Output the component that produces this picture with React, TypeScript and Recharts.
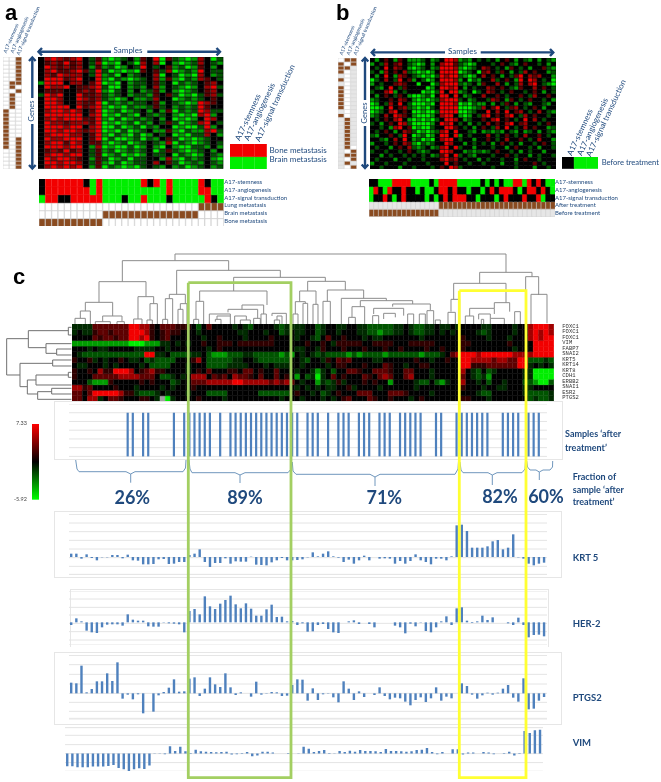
import React from 'react';
import {
  BarChart,
  Bar,
  Cell,
  XAxis,
  YAxis,
  ScatterChart,
  Scatter,
  CartesianGrid,
} from 'recharts';

// expression bars, 93 samples (26 units = one gridline)
const krt5 = [10, 10, -5, 8, -3, -10, -1, -1, 6, 6, -4, 7, -10, -11, -22, -22, -21, -7, -6, -21, -20, -15, -15, 6, 10, 23, -15, -30, -18, -18, -4, -20, -13, -14, -14, 1, -23, -24, -25, -16, -10, -3, -10, -10, -9, -7, -1, 14, 2, 10, 17, 2, -2, -15, -8, -20, -10, 4, -10, 0, -5, -4, -5, -20, -12, -20, -12, 8, -10, -15, -22, -5, -5, -10, 2, 95, 97, 78, 28, 28, 28, 32, 47, 51, 23, 28, 68, -1, -5, -20, -25, -20, -17];
const her2 = [-8, 12, 3, -25, -30, -32, -15, -7, -6, -6, -10, 24, 8, 5, 5, -12, -13, -13, -1, -3, -4, -6, -30, 34, 40, 24, 78, 48, 40, 56, 67, 80, 54, 42, 57, 41, 20, 20, 39, 53, 16, 17, 3, 4, -8, -3, -28, -27, -8, -5, -20, -30, -32, 0, 3, 6, -5, 0, -5, -15, 0, 0, 0, -10, -15, -33, -4, -12, -1, -26, -30, -15, 3, 18, -8, 42, 45, 5, -2, 3, 20, 7, 15, 0, 0, -3, -8, 14, -8, -45, -38, -37, -42];
const ptgs2 = [32, 30, 83, 3, 13, 36, 36, 60, 37, 93, -16, -4, -18, -3, -60, 0, -55, -6, 4, 17, 42, 5, 6, 44, 48, -8, 14, 48, 27, 19, 60, 18, -5, 3, 0, -10, 35, -4, 1, 4, 3, -8, -7, 25, 42, 41, -22, 15, -20, -3, -1, -12, -27, 36, 14, -20, 6, -11, 0, -5, 18, -8, -18, -13, -15, -25, -36, -20, -12, -26, -15, 18, -22, -10, -15, 0, 30, 22, -4, -16, -6, 2, -4, 2, 14, 25, -13, -25, 45, -48, -46, -22, -11];
const vim = [-38, -38, -41, -41, -41, -39, -39, -39, -37, -34, -43, -47, -52, -47, -44, -46, -36, 1, 1, -2, 22, 8, 21, 7, 2, 12, 7, 6, 5, 4, 5, 6, -3, -2, 2, 5, -8, -6, 6, 6, 3, 0, 0, -1, 0, 1, 21, 15, 5, 8, 11, 2, 1, 8, 5, 9, 6, 11, 8, 8, 7, 5, 14, 8, 8, 7, 6, 7, 11, 12, 17, 5, -2, 5, 0, 13, 13, -3, 3, 3, 0, 5, 3, -2, 0, 2, 6, -6, 2, 68, 62, 70, 72];

// sample numbers that are marked 'after treatment'
const afterSamples = [11, 12, 14, 15, 20, 22, 23, 24, 25, 26, 27, 29, 31, 32, 33, 34, 35, 36, 37, 38, 39, 40, 41, 42, 43, 44, 46, 47, 48, 50, 52, 53, 54, 56, 57, 58, 60, 61, 62, 64, 65, 66, 67, 68, 71, 72, 75, 76, 77, 78, 79, 80, 81, 84, 85, 86, 87, 89, 90, 91];

const geneLabels = ['FOXC1', 'FOXC1', 'FOXC1', 'VIM', 'FABP7', 'SNAI2', 'KRT5', 'KRT14', 'KRT8', 'CDH1', 'ERBB2', 'SNAI1', 'ESR2', 'PTGS2'];

// heat map cells as one letter per cell: R o r n k b d g G = red ... black ... green
const palette: Record<string, string> = {
  R: '#f20000', o: '#a00000', r: '#5e0000', n: '#300000', k: '#000000',
  b: '#002a00', d: '#005400', g: '#009c00', G: '#00ee00',
  B: '#8a4b20', w: '#ffffff', e: '#e6e6e6', y: '#a0a0a0',
};

const heatC = [
  'bbbb rrrrrrr RR oo n k rrr nnn kdkrkkkkbkbdkkkkbdbb bbkkdbkkbbkkbbdddddbbkbddbbkbbkb kkkkbbkkkkbkk oRRRo',
  'bkbb nrrnrrr RR Ro n k nrn nkk kbkkkkkkkbbkkkbkkdbk bbkkdbkkbkkkbbddgddbbkbddbbkbkbk kkkbdbkkkkbkk oRoRo',
  'kkkk rnrrnrr RR oR n k nrk kkk kkbkknkkkkbkkkknkkkk bkkbdkrkknkkkbkbbkkkkkkkbkkkkkkk nkkkkbkkkbkkk oRoRR',
  'gggggggggggGGGggg bbkbkb kknkknnnknnnnnnnkkkk kknkknkbnnnnnkknnnnkkknnnnnkkkkk nnkkkkkkknkkk kRRRR',
  'kkkbkbbkkkkkbbbbkkbkkkk kkkbknkkkkkkkkkkkkkk bbkkbnkkknkkknkkknkknkkkknkknkkk nkkkkkkkkkbkk kRRRR',
  'kbddddddddddddRRbbkdddd bbkdgggdddbbdddddgdg kbkbdbddddgdgddddgddddddgdddbkro RRRoRRRRRRooo oRRRR',
  'nkknbkbkknkbbkdbddddkkk nokdddddbbkkbddddddk kbdkkbnkrnrkkkkbbkkkkkknkkbkknkk RRooooroorrRR dddbd',
  'kbbkkkbkbkkkkbkddddkkkb kkkddddbbbbkkkbkbbbk kbkkkkbknnkkknkkkrnkkbkknnkkkkkk RRnnnrrrrrrRR bkbkb',
  'nkknkonnRRRoknronnkkkkb knkrkkknnkrrknkkrkkk bkkbgbkdkkrrnkkrrrnkkrrkkkbkkkkk okbdkdbkkkkkb bGGGG',
  'nkkkrrrrroooorrrkddbkbk oookrnrkorrnkrkkrknk gkdbGbkrknkkkrnkrorkkrokkkbkkkkk rkbdbgkkkkkkb bGGGG',
  'kkkdgggnkkkkknknkkkdbkk rrroooooRRooooororor kbkkgbdbnbkkknknkkgkkkkbddkdgbkk okkbkdkkbkkkd dgGGd',
  'oonrkkkknkkkbkkkkbkbkkk nkkkkkkkkkkkkkkkkkkk bkbkbkbbkknbkkkkbkkkkkkbkkkkkkkk nkkkbkkbbkkkb bkkkk',
  'rrkrRRRRRonnbdddbkbkkkb kkkddddkkkkkkddddddk nkkbkdbknkkkrrrkkkrrrnkkkkbkkkkk kkkbddkkkkkkb ddddb',
  'rrkoobkrrnkkknnkbyGbkkk knkkkkbkkkkkkkkkkbkk kbkkkbkbknrkkkrnkknkkkbknkkkkkkk nnkkkbkkkkkkk dbddb',
];

const heatA = [
  'k oRoroR k dr gGgdkg rkRG r dgGg okGd',
  'k rorRro k do GgGkdG okoG k gGgd okdg',
  'k Rororo k gr gdGgkd Rkdk r gdGg rkgk',
  'k oRrroR r dR dGgGgG rkrd o Ggdg Rkdd',
  'k orRooo k dR gdGkgd kkoG k dGgG okgd',
  'k RRRroR k kR gGdgGg dkog r gGdg orkd',
  'g RRRkoo k rR GgGkgd dkrd k Gdgd krok',
  'k RooRkr r oR dGGkgd gkog k dgGg koRd',
  'k rrrkkr o rR gGdkgk gdrg k gGgd krok',
  'd RoRkkR r ro dgdkgd dgrk r dGgG drod',
  'k RRokkR o ro dgGgkg gdok k Ggdg dkrk',
  'k RRokko r rR Gdgdgd dkrg k dgGg Rork',
  'k RRRRkR r oR gGgGdg gdrd k gdgd Rrkk',
  'k oRRoRo k rR GgdGgd kgkg r Gdgd Rodd',
  'k RRRRRR k oR GgGdgG kdgd k gGgG oRgk',
  'k oRoRRR r rR gGdGgd gdkg k GgGg kRok',
  'k Rooroo o rR GgGgdG dgkd r dGgd oRkd',
  'k RRRoRR k oR GGdGgd Gdgk k GgGG dRgk',
  'k RRoRRo r oR GgGdGg dkgg r gGdg goRd',
  'k oRRRoo k rR gGdgGd Ggkd k GgGd dokg',
  'k RooRRR k rR GdGGgd Gdgk r dGgG gdkk',
  'k oRRrRo k rr gGgdGg dkdg o GdgG gdkd',
  'k RRRoRR k go GgGGdG gkgG k gGGd dgkg',
  'k rorRro k dr gdGgdg dkGd r dgGg dkgk',
  'k oRRoRR k dr GgdGgG gkdd k GdgG gkdg',
  'k RoRRor k gr dGgdGd dkkg o gGdg dkgG',
  'k RRoRRo k dr gGdGgd dkok r dGgd gkdg',
  'k oRoRoR k gr GdgGgG dkdg k gdGg dkgd',
];
const sideA = ['wwB', 'wwB', 'wwB', 'wwB', 'wwB', 'wwB', 'wBB', 'wBw', 'wwB', 'wBw', 'wBw', 'wBw', 'wBw', 'Bww', 'Bww', 'Bww', 'Bww', 'Bww', 'Bww', 'Bww', 'BwB', 'BwB', 'BwB', 'wwB', 'wwB', 'wwB', 'wwB', 'wwB'];
const barA = [
  'k RRRRRR k G R GGGGGG R k R G R GGGG R k G G',
  'k RRRRRR R G R GGGGGG G G G G R GGGG R R G G',
  'G RR kk RRRRR GGG k GG R GGG k GGGG G R k G',
  'wwwwwwwwwwwwwwwwwwwwwwwww BBBB',
  'wwwwwwwwww BBBBBBBBBBBBBBB wwww',
  'BBBBBBBBBB wwwwwwwwwwwwwwwwwww',
];
const swatchA = ['RRR', 'GGG'];

const heatB = [
  'kgkrkgrkg ggdkgd kRRo gdgkd kdkgkrkgkdgkgkdg',
  'gkdokrokd gGgkgk oRRr dgGgk kkdkrkdgkrkkdkgk',
  'kdkRkorkg Ggdkgd RRRo gGgdk orkdkgrkdkgkkrdg',
  'dkgokrkod gGgGgk RRRR GgdkG rokdrkgkdokrkkgd',
  'kgkRkgork dgGgGd RoRR dgGgk okrkgkdrRkorokkg',
  'GdkokdRkr gkdGgk RRRo gkGdg kkodkrkgRkRokdkG',
  'gkdkkrork kGkkGd oRRR dgdkg rkkokgkdokoRkdgG',
  'kdgkRkdrk kkkGgk RRoR kgkdk korkrkdgrkkokrkd',
  'dkkoRgkdk kkGgGd RkRR gdkGd korkdkrkkdkrkgkd',
  'kgkrkdrkg GGgdGk RRkR kgdkk okkrkdkkrkdokkrk',
  'gdkkrkork gGgGgd oRRR dkgdk kdorkgrkdkrkkdkg',
  'GgkdokRkd GGGgGk RRRo GgGdg gkgkdrkgkdgkkdgk',
  'GGgkRkrod gGgGdk RRRR GGGgd okrRkdrokdkrkgkk',
  'GgdkoRkrk GGgGGd RRRR GGgdk kRkokRkrokdkokdg',
  'gdkokRork gGGGgk oRRk gGgkd oRkrkoRkdokrkkdk',
  'kdkrkoRkg GgGgGd kRRo kgdkk rkoRkrkdkRkokdkk',
  'dkgkrkRod GGGGgk RoRk dkgkd kokrkoRkrokkdkrk',
  'kkdkgoRkr GgGGdk kRRr kdkgk rkdokRkdkokrkkgd',
  'kdkrkgkor dGgGgd oRkR kkdgk gdgdgkdgkgdkgkdg',
  'dgkkrkdRk GgdGgk RRkR gkdkk kokdkrkdkokkrkdk',
  'kkdgkokRk gdGgGk oRRk dkkgk krkdkokkrkdkokkg',
  'gkkdkrkor gGdgdk kRok kgkdk dkgkrkdkgkkdkrkd',
  'kdkkgkrko dgdkgd oRkR dkkgk kkdkkgkrkkdkgkkd',
  'dkkdkkdkr kdgdkk RRok kgdgd gdkrkkdkgkdkkgkk',
  'kkgkdkkdk dkdkgd rRkR dkdgk kkdkkrkdkkgkdkkd',
  'kdkkkgkkd kkdkkk oRro kdkkg kdkkdkkgkrkkdkkk',
  'gkkdkkkdk kkkdkk kRkr kkdkk dkkkgkkdkkkrkdkk',
  'kkdkkkgkk dkkkdk rkRo dkkkk kkdkkkkdkkkgkkdk',
];
const sideB = ['wBB', 'BwB', 'BBe', 'Bwe', 'ewe', 'Bwe', 'ewe', 'Bwe', 'Bwe', 'Bwe', 'Bwe', 'Bwe', 'Bwe', 'ewe', 'Bwe', 'eBe', 'eBe', 'eBe', 'eBe', 'eBe', 'eBe', 'eBe', 'eBw', 'ewB', 'eBB', 'ewB', 'eBe', 'ewB'];
const barB = [
  'kkGGGRRRRGGGGkG RRRR GGGGG kGkGkGGRRGRkRkGG',
  'GRkGRkkRkkGkGGk RRkR kkGkk GkRkRRRkGkRRkRkG',
  'GkkRkGkRkkkkGkG kRkR RRkkG kkkGkRkkkRkkRGkk',
  'eeeeeeeeeeeeeee BBBBBBBBBBBBBBBBBBBBBBBBB',
  'BBBBBBBBBBBBBBB eeeeeeeeeeeeeeeeeeeeeeeee',
];
const swatchB = ['kGG'];

// dendrogram merges: left leaf, left height, right leaf, right height, merge height
const topMerges = [
  [524, 190, 1517, 155, 210], [366, 127, 685, 161, 190], [296, 65, 437, 82, 127], [255, 39, 337, 24, 65],
  [240, 17, 270, 0, 39], [224, 0, 255, 0, 17], [307, 7, 365, 7, 24], [285, 0, 330, 0, 7], [350, 0, 372, 0, 7],
  [413, 15, 460, 61, 82], [400, 0, 425, 0, 15], [449, 12, 471, 0, 61], [440, 0, 456, 0, 12],
  [529, 89, 840, 140, 161], [507, 76, 555, 61, 89], [495, 14, 517, 0, 76], [487, 0, 502, 0, 14],
  [540, 44, 560, 0, 61], [533, 0, 548, 0, 44], [700, 99, 975, 128, 140], [598, 68, 800, 57, 99],
  [587, 14, 610, 0, 68], [580, 0, 595, 0, 14], [725, 44, 790, 30, 57], [683, 35, 772, 17, 44],
  [627, 0, 690, 24, 30], [650, 14, 690, 0, 24], [645, 7, 662, 0, 14], [703, 0, 738, 12, 24], [720, 0, 750, 0, 12],
  [760, 0, 780, 0, 17], [815, 24, 858, 0, 32], [782, 0, 798, 0, 30], [830, 12, 845, 0, 24], [822, 0, 838, 0, 12],
  [922, 99, 1035, 102, 128], [898, 67, 947, 59, 99], [885, 30, 915, 62, 67], [878, 0, 893, 0, 30], [908, 0, 922, 0, 62],
  [938, 0, 953, 0, 59], [981, 68, 1090, 77, 102], [968, 0, 990, 0, 68], [1023, 0, 1158, 70, 77], [1080, 52, 1237, 60, 70],
  [1055, 20, 1093, 0, 52], [1045, 0, 1065, 0, 20], [1177, 52, 1290, 42, 60], [1120, 30, 1210, 25, 47], [1117, 0, 1135, 0, 25],
  [1150, 15, 1185, 20, 32], [1222, 0, 1240, 0, 30], [1257, 0, 1275, 0, 30], [1280, 0, 1300, 0, 40], [1305, 0, 1320, 0, 12],
  [1343, 0, 1365, 0, 35], [1438, 122, 1595, 142, 155], [1360, 74, 1517, 64, 122], [1352, 37, 1378, 0, 74],
  [1482, 47, 1528, 37, 64], [1408, 24, 1482, 30, 47], [1395, 0, 1420, 0, 24], [1435, 14, 1470, 17, 30], [1443, 0, 1450, 0, 14],
  [1470, 0, 1512, 0, 17], [1543, 0, 1560, 0, 37], [1576, 89, 1615, 87, 142], [1592, 0, 1640, 2, 89],
];
// top row, top depth, bottom row, bottom depth, merge depth
const leftMerges = [
  [296, 85, 405, 60, 20], [272, 205, 323, 138, 85], [262, 215, 285, 215, 205], [311, 215, 340, 170, 138],
  [327, 215, 345, 215, 170], [370, 158, 440, 82, 60], [360, 215, 378, 215, 158], [420, 108, 462, 113, 82],
  [405, 205, 435, 215, 108], [397, 215, 412, 215, 205], [455, 155, 478, 215, 113], [445, 215, 462, 215, 155],
];

const NAVY = '#1f497d';
const BAR_BLUE = '#4f81bd';
const GRID = '#e4e4e4';

type Pt = { x: number; y: number };
const pts = (...v: number[]): Pt[] => {
  const out: Pt[] = [];
  for (let i = 0; i < v.length; i += 2) out.push({ x: v[i], y: v[i + 1] });
  return out;
};

const NoDot = () => <g />;

// lines drawn as Scatter series, one per polyline
const Lines = ({ lines, left, top, width, height, xDomain, yDomain, reversed, color, stroke = 1 }: any) => (
  <div style={{ position: 'absolute', left, top }}>
    <ScatterChart width={width} height={height} margin={{ top: 0, right: 0, bottom: 0, left: 0 }}>
      <XAxis type="number" dataKey="x" hide domain={xDomain} allowDataOverflow />
      <YAxis type="number" dataKey="y" hide domain={yDomain} reversed={reversed} allowDataOverflow />
      {lines.map((l: Pt[], i: number) => (
        <Scatter
          key={i}
          data={l}
          line={{ stroke: color, strokeWidth: stroke }}
          shape={NoDot}
          isAnimationActive={false}
        />
      ))}
    </ScatterChart>
  </div>
);

const Heatmap = ({ rows, left, top, width, height, stroke, cellLine }: any) => {
  const grid: string[] = rows.map((r: string) => r.replace(/\s/g, ''));
  const nCols = Math.max(...grid.map((r) => r.length));
  const data = Array.from({ length: nCols }, (_, c) => {
    const d: any = { col: c };
    grid.forEach((_r, i) => {
      d[`r${i}`] = 1;
    });
    return d;
  });
  const order = grid.map((_, i) => grid.length - 1 - i);
  return (
    <div style={{ position: 'absolute', left, top }}>
      <BarChart width={width} height={height} data={data} margin={{ top: 0, right: 0, bottom: 0, left: 0 }} barCategoryGap={0} barGap={0}>
        <XAxis dataKey="col" hide />
        <YAxis hide domain={[0, grid.length]} />
        {order.map((i) => (
          <Bar key={i} dataKey={`r${i}`} stackId="cells" isAnimationActive={false}>
            {data.map((_, c) => {
              const ch = grid[i][c] ?? grid[i][grid[i].length - 1];
              const fill = palette[ch] ?? '#000';
              const lightCell = ch === 'w' || ch === 'e' || ch === 'B';
              const line = stroke && lightCell ? stroke : cellLine ?? fill;
              return <Cell key={c} fill={fill} stroke={line} strokeWidth={stroke && lightCell ? 0.6 : 0.5} />;
            })}
          </Bar>
        ))}
      </BarChart>
    </div>
  );
};

const ExprPanel = ({ values, left, top, height, max, min, gridLines, width = 478 }: any) => {
  const data = values.map((v: number, i: number) => ({ sample: i, v }));
  return (
    <div style={{ position: 'absolute', left, top }}>
      <BarChart width={width} height={height} data={data} margin={{ top: 0, right: 0, bottom: 0, left: 0 }} barCategoryGap="50%">
        <CartesianGrid vertical={false} stroke={GRID} strokeWidth={1} />
        <XAxis dataKey="sample" hide />
        <YAxis hide domain={[min, max]} ticks={gridLines} interval={0} allowDataOverflow />
        <Bar dataKey="v" fill={BAR_BLUE} barSize={2.4} isAnimationActive={false} />
      </BarChart>
    </div>
  );
};

const Frame = ({ left, top, width, height, sides = 'all' }: any) => (
  <div
    style={{
      position: 'absolute',
      left,
      top,
      width,
      height,
      boxSizing: 'border-box',
      border: '1px solid #e6e6e6',
      borderBottom: sides === 'open' ? 'none' : '1px solid #e6e6e6',
    }}
  />
);

const T = ({ x, y, size, bold, rotate, mono, color = NAVY, font, center, children }: any) => (
  <div
    style={{
      position: 'absolute',
      left: x,
      top: y,
      fontFamily: mono ? '"Liberation Mono"' : font ?? 'Lato',
      fontSize: size,
      fontWeight: bold ? 700 : 400,
      color,
      lineHeight: 1,
      whiteSpace: 'nowrap',
      transformOrigin: center ? 'center center' : 'left center',
      transform: `translate(${center ? '-50%' : '0'}, -50%) rotate(${rotate ?? 0}deg)`,
    }}
  >
    {children}
  </div>
);

// merges -> polylines
const topLines = topMerges.map(([xl, hl, xr, hr, h]) => pts(xl, hl, xl, h, xr, h, xr, hr));
const leftLines = leftMerges.map(([yt, xt, yb, xb, xm]) => pts(xt, yt, xm, yt, xm, yb, xb, yb));

const arrowLines = [
  pts(42, 48, 38.5, 51.7, 42, 55.4), pts(38.5, 51.7, 111, 51.7),
  pts(216.5, 48, 220, 51.7, 216.5, 55.4), pts(147.3, 51.7, 220, 51.7),
  pts(29, 61, 32.3, 57.5, 35.6, 61), pts(32.3, 57.5, 32.3, 98),
  pts(29, 165, 32.3, 168.5, 35.6, 165), pts(32.3, 124, 32.3, 168.5),
  pts(375, 49, 371.7, 52.4, 375, 56), pts(371.7, 52.4, 445, 52.4),
  pts(550, 49, 553.3, 52.4, 550, 56), pts(480.7, 52.4, 553.3, 52.4),
  pts(361.7, 61.5, 365, 58, 368.3, 61.5), pts(365, 58, 365, 100),
  pts(361.7, 164.5, 365, 168, 368.3, 164.5), pts(365, 126, 365, 168),
];
const braceLines = [
  pts(75.7, 460, 77, 469, 79, 471.7, 126, 471.7, 130.7, 474, 130.7, 482.7),
  pts(130.7, 474, 135, 471.7, 183, 471.7, 185.5, 468, 186, 460),
  pts(189, 460, 190, 469, 192, 472.7, 235, 472.7, 240, 475, 240, 483),
  pts(240, 475, 245, 472.7, 288, 472.7, 291, 469, 291.7, 462),
  pts(292.3, 462, 293, 471, 296, 474.3, 370, 474.3, 375, 477, 375, 486),
  pts(375, 477, 380, 474.3, 455, 474.3, 458, 469, 458.5, 461),
  pts(460, 462, 461, 470, 463, 472.7, 488, 472.7, 492.3, 475, 492.3, 485),
  pts(492.3, 475, 497, 472.7, 522, 472.7, 525, 469, 525.5, 461),
  pts(526.7, 461, 527.5, 467, 530, 470, 536, 470, 539.3, 472, 539.3, 480),
  pts(539.3, 472, 543, 470, 550, 470, 552.5, 467, 552.7, 461),
];

const PAGE_X = [0, 661];
const PAGE_Y = [0, 782];

const App = () => {
  const afterData = Array.from({ length: 93 }, (_, i) => ({ sample: i, v: afterSamples.includes(i) ? 5 : 0 }));
  return (
    <div style={{ position: 'absolute', left: 0, top: 0, width: 661, height: 782, overflow: 'hidden', background: '#fff', filter: 'blur(0.35px)' }}>
      {/* panel a */}
      <T x={5} y={13} size={22} bold font='"Liberation Sans"' color="#000">a</T>
      <Heatmap rows={sideA} left={3} top={57} width={19} height={112} stroke="#d4d4d4" />
      <Heatmap rows={heatA} left={38} top={57.3} width={185.5} height={111.7} cellLine="#000" />
      <Heatmap rows={swatchA} left={230} top={144} width={37} height={25.3} />
      <Heatmap rows={barA} left={38.5} top={178.5} width={185} height={47.5} stroke="#c8c8c8" />
      <T x={5} y={53} size={5} rotate={-67}>A17-stemness</T>
      <T x={11.7} y={53} size={5} rotate={-67}>A17-angiogenesis</T>
      <T x={18.3} y={55} size={5} rotate={-67}>A17-signal transduction</T>
      <T x={128} y={50} size={8} center>Samples</T>
      <T x={32} y={111} size={7.5} center rotate={-90}>Genes</T>
      <T x={236.7} y={140} size={8} rotate={-65}>A17-stemness</T>
      <T x={246} y={140} size={8} rotate={-65}>A17-angiogenesis</T>
      <T x={256.7} y={140.7} size={8} rotate={-65}>A17-signal transduction</T>
      <T x={269.5} y={150} size={8}>Bone metastasis</T>
      <T x={269.5} y={159.3} size={8}>Brain metastasis</T>
      {['A17-stemness', 'A17-angiogenesis', 'A17-signal transduction', 'Lung metastasis', 'Brain metastasis', 'Bone metastasis'].map((s, i) => (
        <T key={s} x={224.3} y={181.7 + i * 7.9} size={6}>{s}</T>
      ))}

      {/* panel b */}
      <T x={336} y={13} size={22} bold font='"Liberation Sans"' color="#000">b</T>
      <Heatmap rows={sideB} left={338} top={58} width={19} height={111} stroke="#d8d8d8" />
      <Heatmap rows={heatB} left={370} top={57.7} width={185.7} height={111.3} cellLine="#000" />
      <Heatmap rows={swatchB} left={562} top={157.3} width={36.3} height={11.7} />
      <Heatmap rows={barB} left={368.5} top={179} width={186} height={37.7} stroke="#d0d0d0" />
      <T x={341} y={55} size={5} rotate={-67}>A17-stemness</T>
      <T x={347.7} y={55} size={5} rotate={-67}>A17-angiogenesis</T>
      <T x={355} y={55} size={5} rotate={-67}>A17-signal transduction</T>
      <T x={462.5} y={51} size={8} center>Samples</T>
      <T x={365} y={113} size={7.5} center rotate={-90}>Genes</T>
      <T x={569} y={155} size={8} rotate={-65}>A17-stemness</T>
      <T x={579} y={155} size={8} rotate={-65}>A17-angiogenesis</T>
      <T x={588.3} y={156} size={8} rotate={-65}>A17-signal transduction</T>
      <T x={601.7} y={162.7} size={7.6}>Before treatment</T>
      {['A17-stemness', 'A17-angiogenesis', 'A17-signal transduction', 'After treatment', 'Before treatment'].map((s, i) => (
        <T key={s} x={555} y={181.7 + i * 7.9} size={6}>{s}</T>
      ))}
      <Lines lines={arrowLines} left={0} top={0} width={661} height={782} xDomain={PAGE_X} yDomain={PAGE_Y} reversed color={NAVY} stroke={2.4} />

      {/* panel c */}
      <T x={13} y={277} size={22} bold font='"Liberation Sans"' color="#000">c</T>
      <Lines lines={topLines} left={71.67} top={250} width={481.67} height={74} xDomain={[215, 1660]} yDomain={[0, 222]} color="#8c8c8c" />
      <Lines lines={leftLines} left={0} top={324} width={71.67} height={77.33} xDomain={[0, 215]} yDomain={[252, 484]} reversed color="#707070" />
      <Heatmap rows={heatC} left={71.7} top={324} width={482} height={77.3} />
      {geneLabels.map((g, i) => (
        <T key={i} x={562.3} y={326.5 + i * 5.53} size={5.5} mono color="#333">{g}</T>
      ))}

      {/* colour key */}
      <div style={{ position: 'absolute', left: 31.7, top: 424.3 }}>
        <BarChart width={7.3} height={75.7} data={[{ k: 1 }]} margin={{ top: 0, right: 0, bottom: 0, left: 0 }} barCategoryGap={0}>
          <defs>
            <linearGradient id="key" x1="0" y1="0" x2="0" y2="1">
              <stop offset="0" stopColor="#ff0000" />
              <stop offset="0.5" stopColor="#000000" />
              <stop offset="1" stopColor="#00ff00" />
            </linearGradient>
          </defs>
          <YAxis hide domain={[0, 1]} />
          <Bar dataKey="k" fill="url(#key)" isAnimationActive={false} />
        </BarChart>
      </div>
      <T x={16} y={424} size={5.5} color="#444">7.33</T>
      <T x={14} y={500} size={5.5} color="#444">-5.92</T>

      {/* samples after treatment */}
      <Frame left={54} top={401} width={509} height={59} />
      <div style={{ position: 'absolute', left: 69.4, top: 404.3 }}>
        <BarChart width={478} height={52.4} data={afterData} margin={{ top: 0, right: 0, bottom: 0, left: 0 }} barCategoryGap="50%">
          <CartesianGrid vertical={false} stroke={GRID} />
          <XAxis dataKey="sample" hide />
          <YAxis hide domain={[0, 6]} ticks={[0, 1, 2, 3, 4, 5, 6]} interval={0} />
          <Bar dataKey="v" fill={BAR_BLUE} barSize={2.2} isAnimationActive={false} />
        </BarChart>
      </div>
      <T x={565} y={433} size={9} bold>Samples ‘after</T>
      <T x={565} y={446.7} size={9} bold>treatment’</T>

      <Lines lines={braceLines} left={0} top={0} width={661} height={782} xDomain={PAGE_X} yDomain={PAGE_Y} reversed color="#7097bd" />
      <T x={132.3} y={496.7} size={18} bold center>26%</T>
      <T x={245} y={496.7} size={18} bold center>89%</T>
      <T x={384.3} y={496.7} size={18} bold center>71%</T>
      <T x={500} y={495.7} size={18} bold center>82%</T>
      <T x={546} y={495.7} size={18} bold center>60%</T>
      <T x={572.7} y={476.3} size={9} bold>Fraction of</T>
      <T x={572.7} y={489} size={9} bold>sample ‘after</T>
      <T x={572.7} y={501.3} size={9} bold>treatment’</T>

      {/* expression bars */}
      <Frame left={54} top={511} width={508} height={66.5} />
      <ExprPanel values={krt5} left={69.4} top={514} height={61} max={129} min={-54} gridLines={[128, 102, 76, 50, 24, -2, -28, -52]} />
      <T x={572.7} y={558.3} size={9.5} bold>KRT 5</T>

      <Frame left={69.5} top={588.7} width={479.5} height={58} sides="open" />
      <ExprPanel values={her2} left={69.4} top={591} height={54} max={94} min={-68} gridLines={[94, 70, 45, 22, -3, -28, -53]} />
      <T x={572.7} y={624.3} size={9.5} bold>HER-2</T>

      <Frame left={54} top={651.7} width={508} height={73.5} />
      <ExprPanel values={ptgs2} left={69.4} top={655} height={65} max={115} min={-80} gridLines={[114, 86, 57, 28, 0, -27, -54, -75]} />
      <T x={572.7} y={698.3} size={9.5} bold>PTGS2</T>

      <ExprPanel values={vim} left={65.4} top={726.7} height={44.6} max={80} min={-54} gridLines={[78, 55, 27, 0, -27, -53]} />
      <T x={572.7} y={742.7} size={9.5} bold>VIM</T>

      {/* highlight boxes */}
      <Lines lines={[pts(188.3, 282.7, 291, 282.7, 291, 777.7, 188.3, 777.7, 188.3, 282.7)]} left={0} top={0} width={661} height={782} xDomain={PAGE_X} yDomain={PAGE_Y} reversed color="#a3cf62" stroke={2.8} />
      <Lines lines={[pts(459.3, 290.7, 526, 290.7, 526, 777.7, 459.3, 777.7, 459.3, 290.7)]} left={0} top={0} width={661} height={782} xDomain={PAGE_X} yDomain={PAGE_Y} reversed color="#ffff33" stroke={2.8} />
    </div>
  );
};

export default App;
